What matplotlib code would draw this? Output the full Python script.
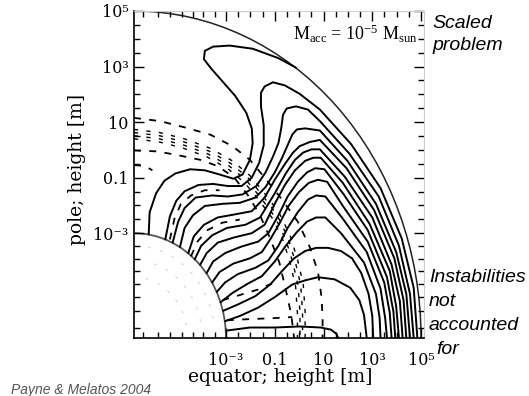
import numpy as np
import matplotlib
matplotlib.use('Agg')
import matplotlib.pyplot as plt
from matplotlib.patches import Arc

plt.rcParams.update({
    'font.family': 'DejaVu Serif',
    'mathtext.fontset': 'custom',
    'mathtext.rm': 'Liberation Serif',
    'mathtext.it': 'Liberation Serif:italic',
    'lines.scale_dashes': False,
})

# radial layout: star surface at 1e-3 m, each decade of height adds DEC
R_STAR = 1.0
DEC = 0.265
LOGH_SURFACE = -3
LOGH_TOP = 5

MAJOR_LOGH = [-3, -1, 1, 3, 5]
MAJOR_LABELS = ['10⁻³', '0.1', '10', '10³', '10⁵']
MINOR_LOGH = [-2.5, -2, -1.5, -0.5, 0, 0.5, 1.5, 2, 2.5, 3.5, 4, 4.5]
STAR_TICKS = [0.10, 0.26, 0.39, 0.52, 0.64, 0.75, 0.88]   # ticks inside the star

# solid field lines, points as (equator, pole) in star radii
FIELD_1 = [(0.16, 0.99), (0.17, 1.20), (0.24, 1.38), (0.33, 1.50), (0.45, 1.57), (0.61, 1.61),
           (0.77, 1.60), (0.93, 1.56), (1.08, 1.52), (1.18, 1.56), (1.26, 1.70), (1.29, 1.86),
           (1.28, 2.00), (1.22, 2.15), (1.10, 2.31), (0.96, 2.45), (0.84, 2.57), (0.76, 2.66),
           (0.77, 2.74), (0.86, 2.78), (1.04, 2.79), (1.29, 2.76), (1.57, 2.67), (1.76, 2.58)]
FIELD_2 = [(0.34, 0.94), (0.39, 1.16), (0.46, 1.31), (0.55, 1.40), (0.70, 1.46), (0.86, 1.47),
           (1.02, 1.45), (1.17, 1.45), (1.28, 1.53), (1.36, 1.67), (1.41, 1.84), (1.41, 2.03),
           (1.38, 2.21), (1.38, 2.34), (1.42, 2.40), (1.51, 2.44), (1.64, 2.41), (1.80, 2.33),
           (2.02, 2.18), (2.36, 1.85), (2.68, 1.43), (2.91, 0.95), (3.04, 0.48), (3.08, 0.00)]
FIELD_3 = [(0.42, 0.91), (0.48, 1.11), (0.55, 1.24), (0.67, 1.34), (0.85, 1.36), (1.02, 1.35),
           (1.18, 1.37), (1.33, 1.45), (1.43, 1.58), (1.51, 1.73), (1.57, 1.86), (1.60, 2.00),
           (1.62, 2.13), (1.66, 2.19), (1.76, 2.21), (1.89, 2.18), (2.02, 2.07), (2.34, 1.76),
           (2.66, 1.35), (2.88, 0.88), (3.00, 0.42), (3.04, 0.00)]
FIELD_4 = [(0.50, 0.87), (0.55, 1.05), (0.64, 1.17), (0.77, 1.26), (0.96, 1.28), (1.15, 1.29),
           (1.32, 1.34), (1.43, 1.44), (1.53, 1.58), (1.61, 1.72), (1.67, 1.84), (1.72, 1.94),
           (1.77, 1.99), (1.86, 2.00), (2.02, 1.98), (2.32, 1.69), (2.63, 1.28), (2.85, 0.82),
           (2.96, 0.42), (3.00, 0.00)]
FIELD_5 = [(0.59, 0.81), (0.65, 0.97), (0.76, 1.08), (0.91, 1.15), (1.10, 1.18), (1.28, 1.21),
           (1.42, 1.34), (1.53, 1.51), (1.64, 1.66), (1.73, 1.77), (1.80, 1.83), (1.91, 1.87),
           (2.02, 1.89), (2.31, 1.62), (2.61, 1.22), (2.83, 0.76), (2.93, 0.36), (2.96, 0.00)]
FIELD_6 = [(0.66, 0.75), (0.73, 0.88), (0.85, 0.98), (1.01, 1.05), (1.21, 1.08), (1.37, 1.15),
           (1.53, 1.38), (1.65, 1.57), (1.75, 1.70), (1.84, 1.77), (1.93, 1.80), (2.02, 1.80),
           (2.29, 1.54), (2.59, 1.15), (2.80, 0.70), (2.89, 0.35), (2.92, 0.00)]
FIELD_7 = [(0.72, 0.70), (0.79, 0.81), (0.91, 0.91), (1.09, 0.96), (1.28, 1.00), (1.42, 1.08),
           (1.53, 1.28), (1.64, 1.46), (1.75, 1.60), (1.86, 1.69), (1.95, 1.72), (2.03, 1.72),
           (2.27, 1.48), (2.56, 1.09), (2.78, 0.64), (2.85, 0.30), (2.88, 0.00)]
FIELD_8 = [(0.79, 0.62), (0.86, 0.73), (0.99, 0.81), (1.16, 0.87), (1.35, 0.92), (1.46, 1.00),
           (1.57, 1.17), (1.67, 1.35), (1.78, 1.49), (1.88, 1.58), (1.97, 1.62), (2.07, 1.61),
           (2.28, 1.37), (2.54, 1.03), (2.75, 0.58), (2.82, 0.25), (2.84, 0.00)]
FIELD_9 = [(0.85, 0.53), (0.93, 0.63), (1.08, 0.71), (1.26, 0.76), (1.39, 0.82), (1.48, 0.94),
           (1.58, 1.09), (1.68, 1.26), (1.79, 1.39), (1.90, 1.48), (2.00, 1.51), (2.10, 1.49),
           (2.27, 1.26), (2.54, 0.92), (2.72, 0.53), (2.78, 0.24), (2.80, 0.00)]
FIELD_10 = [(0.90, 0.44), (0.99, 0.53), (1.13, 0.61), (1.32, 0.67), (1.46, 0.74), (1.57, 0.88),
            (1.67, 1.05), (1.78, 1.20), (1.89, 1.32), (1.98, 1.36), (2.08, 1.35), (2.26, 1.15),
            (2.53, 0.82), (2.68, 0.47), (2.73, 0.19), (2.75, 0.00)]
FIELD_11 = [(0.94, 0.34), (1.07, 0.43), (1.24, 0.52), (1.39, 0.59), (1.53, 0.73), (1.65, 0.88),
            (1.77, 1.01), (1.88, 1.11), (1.98, 1.15), (2.08, 1.15), (2.25, 1.00), (2.50, 0.72),
            (2.63, 0.42), (2.67, 0.19), (2.68, 0.00)]
FIELD_12 = [(0.97, 0.26), (1.13, 0.32), (1.32, 0.40), (1.48, 0.51), (1.61, 0.64), (1.74, 0.76),
            (1.86, 0.83), (1.98, 0.86), (2.11, 0.86), (2.25, 0.83), (2.37, 0.76), (2.47, 0.62),
            (2.55, 0.42), (2.59, 0.21), (2.60, 0.00)]
FIELD_13 = [(0.99, 0.16), (1.15, 0.21), (1.35, 0.29), (1.53, 0.39), (1.72, 0.51), (1.86, 0.55),
            (2.00, 0.58), (2.18, 0.56), (2.35, 0.48), (2.45, 0.36), (2.50, 0.22), (2.53, 0.00)]
EQ_LOOP = [(1.00, 0.07), (1.26, 0.10), (1.53, 0.10), (1.80, 0.11), (2.03, 0.10), (2.14, 0.08),
           (2.20, 0.04), (2.22, 0.00)]

# dashed contours
DASH_A = [(0.00, 2.10), (0.28, 2.07), (0.55, 2.01), (0.83, 1.94), (1.07, 1.83), (1.26, 1.70),
          (1.42, 1.53), (1.61, 1.32), (1.78, 1.11), (1.91, 0.87), (2.00, 0.63), (2.04, 0.38),
          (2.05, 0.17), (2.05, 0.00)]
DASH_B = [(0.00, 1.99), (0.28, 1.96), (0.55, 1.90), (0.83, 1.81), (1.07, 1.69), (1.26, 1.55),
          (1.42, 1.38), (1.58, 1.19), (1.70, 0.97), (1.78, 0.74), (1.84, 0.51), (1.86, 0.25),
          (1.86, 0.00)]
DASH_C = [(0.00, 1.79), (0.26, 1.78), (0.50, 1.74), (0.72, 1.70), (0.91, 1.64), (1.09, 1.53),
          (1.24, 1.36), (1.37, 1.17), (1.48, 0.95), (1.58, 0.72), (1.65, 0.46), (1.71, 0.22),
          (1.74, 0.00)]
DASH_D = [(0.00, 1.65), (0.12, 1.64), (0.20, 1.60)]
DASH_E = [(0.96, 0.36), (1.15, 0.41), (1.34, 0.46), (1.50, 0.52)]
DASH_F = [(1.01, 0.17), (1.26, 0.18), (1.53, 0.19), (1.72, 0.20)]
DASH_G = [(0.39, 0.94), (0.44, 1.14), (0.51, 1.28), (0.62, 1.36), (0.77, 1.41), (0.93, 1.41)]
DASH_H = [(0.62, 0.78), (0.69, 0.92), (0.80, 1.03), (0.96, 1.10), (1.15, 1.13)]

STAR_SPECKLE_R = [0.58, 0.74, 0.88]   # faint marks inside the star

FIELD_LINES = [FIELD_1, FIELD_2, FIELD_3, FIELD_4, FIELD_5, FIELD_6, FIELD_7, FIELD_8,
               FIELD_9, FIELD_10, FIELD_11, FIELD_12, FIELD_13, EQ_LOOP]
DASH_LINES = [DASH_A, DASH_C, DASH_D, DASH_E, DASH_F, DASH_G, DASH_H]
BUNDLE_SCALES = [1.0, 0.985, 0.97, 0.955]   # DASH_B is drawn as a tight bundle


def radius(logh):
    return R_STAR + (logh - LOGH_SURFACE) * DEC


def draw(ax, pts, scale=1.0, **kw):
    pts = np.asarray(pts) * scale
    ax.plot(pts[:, 0], pts[:, 1], **kw)


W, H = 529, 396
fig = plt.figure(figsize=(W / 100, H / 100), dpi=100)
ax = fig.add_axes([134 / W, 58 / H, 290 / W, 327 / H])
ax.set_xlim(0, 290 / 92)
ax.set_ylim(0, radius(LOGH_TOP))

solid = dict(color='black', lw=1.4, solid_joinstyle='round', solid_capstyle='round')
dashed = dict(color='black', lw=1.3, ls=(0, (5, 6)), dash_capstyle='butt')

for line in FIELD_LINES:
    draw(ax, line, **solid)
for line in DASH_LINES:
    draw(ax, line, **dashed)
for s in BUNDLE_SCALES:
    draw(ax, DASH_B, scale=s, color='black', lw=1.0, ls=(0, (3, 6)))

r_top = radius(LOGH_TOP)
ax.add_patch(Arc((0, 0), 2 * r_top, 2 * r_top, theta1=0, theta2=90, color='#222222', lw=1.1))
ax.add_patch(Arc((0, 0), 2 * R_STAR, 2 * R_STAR, theta1=0, theta2=90, color='#555555', lw=1.3))
for rs in STAR_SPECKLE_R:
    ax.add_patch(Arc((0, 0), 2 * rs, 2 * rs, theta1=12, theta2=80, color='#dcdcdc',
                     lw=1.0, ls=(0, (2, 7))))

# ticks
major = [radius(l) for l in MAJOR_LOGH]
minor = [radius(l) for l in MINOR_LOGH] + STAR_TICKS
for axis in (ax.xaxis, ax.yaxis):
    axis.set_ticks(major)
    axis.set_ticklabels(MAJOR_LABELS)
    axis.set_ticks(minor, minor=True)
ax.tick_params(which='both', direction='in', top=True, right=True, width=1.0)
ax.tick_params(which='major', length=7)
ax.tick_params(which='minor', length=4)
ax.tick_params(axis='x', which='major', labelsize=11.5, pad=10)
ax.tick_params(axis='y', which='major', labelsize=11.5, pad=4)
for axis in (ax.xaxis, ax.yaxis):
    for t in axis.get_major_ticks() + axis.get_minor_ticks():
        t.tick2line.set_color('#bbbbbb')

for side in ('left', 'bottom'):
    ax.spines[side].set_linewidth(1.2)
for side in ('top', 'right'):
    ax.spines[side].set_color('#cccccc')

fig.text(280 / W, 1 - 377 / H, 'equator; height [m]', ha='center', va='center', fontsize=13.5)
fig.text(77 / W, 1 - 169 / H, 'pole; height [m]', ha='center', va='center',
         rotation=90, fontsize=13.5)

fig.text(417 / W, 1 - 34 / H, r'M$_{\mathrm{acc}}$ = 10$^{-5}$ M$_{\mathrm{sun}}$',
         ha='right', va='center', fontsize=13, family='Liberation Serif')

side_note = dict(family='Liberation Sans', style='italic', fontsize=14, ha='left', va='center')
for txt, y in zip(['Scaled', 'problem'], [23, 46]):
    fig.text(432 / W, 1 - y / H, txt, **side_note)
for txt, x, y in zip(['Instabilities', 'not', 'accounted', 'for'],
                     [429, 429, 429, 436], [278, 302, 326, 349]):
    fig.text(x / W, 1 - y / H, txt, **side_note)

fig.text(11 / W, 1 - 390 / H, 'Payne & Melatos 2004', family='Liberation Sans', style='italic',
         fontsize=10, color='#555555', ha='left', va='center')

fig.savefig('out.png', dpi=100)
